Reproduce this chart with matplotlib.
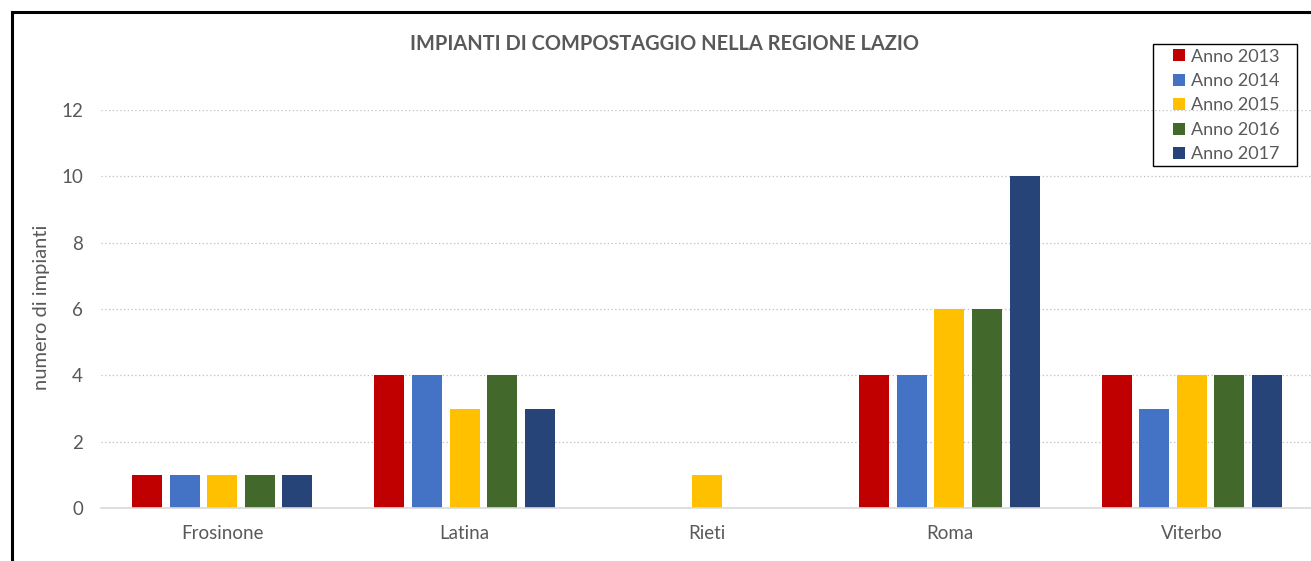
import matplotlib
matplotlib.use("Agg")
import matplotlib.pyplot as plt
import numpy as np
from matplotlib.lines import Line2D
from matplotlib.patches import Patch, Rectangle

categories = ["Frosinone", "Latina", "Rieti", "Roma", "Viterbo"]
series_names = ["Anno 2013", "Anno 2014", "Anno 2015", "Anno 2016", "Anno 2017"]
v2013 = [1, 4, 0, 4, 4]
v2014 = [1, 4, 0, 4, 3]
v2015 = [1, 3, 1, 6, 4]
v2016 = [1, 4, 0, 6, 4]
v2017 = [1, 3, 0, 10, 4]
series = [v2013, v2014, v2015, v2016, v2017]
colors = ["#C00000", "#4472C4", "#FFC000", "#43682B", "#264478"]
yticks = [0, 2, 4, 6, 8, 10, 12]

plt.rcParams['font.family'] = ['Lato', 'DejaVu Sans']
gray = "#595959"

fig = plt.figure(figsize=(13.11, 5.61), dpi=100)
W, H = 1311, 561
ax = fig.add_axes([101 / W, 1 - 508 / H, (1313 - 101) / W, (508 - 110) / H])

x = np.arange(len(categories))
bw = 0.124
pitch = 0.155
for i, (vals, c) in enumerate(zip(series, colors)):
    ax.bar(x + (i - 2) * pitch, vals, width=bw, color=c, label=series_names[i], zorder=3)

ax.set_xlim(-0.5, len(categories) - 0.5)
ax.set_ylim(0, 12)
ax.set_yticks(yticks)
ax.set_xticks(x)
ax.set_xticklabels(categories)
ax.tick_params(axis='both', length=0, colors=gray, labelsize=13.5)
ax.tick_params(axis='y', pad=13)
ax.tick_params(axis='x', pad=12)
ax.grid(axis='y', color="#BFBFBF", linestyle=(0, (1, 2)), linewidth=0.9, zorder=0)
for s in ['top', 'right', 'left']:
    ax.spines[s].set_visible(False)
ax.spines['bottom'].set_color("#D9D9D9")
ax.spines['bottom'].set_linewidth(1.2)
ax.spines['bottom'].set_zorder(4)

ax.set_ylabel("numero di impianti", color=gray, fontsize=14.5)
ax.yaxis.set_label_coords((50 - 101) / 1212, (508 - 307) / 398)

fig.text(665 / W, 1 - 44 / H, "IMPIANTI DI COMPOSTAGGIO NELLA REGIONE LAZIO",
         ha='center', va='center', fontsize=14.4, fontweight='bold', color=gray)

handles = [Patch(facecolor=c, edgecolor='none') for c in colors]
leg = fig.legend(handles, series_names, loc='center left',
                 bbox_to_anchor=(1173 / W, 1 - 105.5 / H), fontsize=13,
                 frameon=False,
                 handlelength=0.65, handleheight=0.65, handletextpad=0.35,
                 labelspacing=0.47, borderpad=0, borderaxespad=0)
for t in leg.get_texts():
    t.set_color(gray)

fig.add_artist(Rectangle((1153 / W, 1 - 166 / H), (1297 - 1153) / W, (166 - 44) / H,
                         transform=fig.transFigure, fill=False, edgecolor='black',
                         linewidth=1.0))

# outer border (left and top visible)
fig.add_artist(Line2D([12 / W, 12 / W], [0, 1 - 12 / H], color='black', linewidth=2.2))
fig.add_artist(Line2D([12 / W, 1], [1 - 12 / H, 1 - 12 / H], color='black', linewidth=2.2))

fig.savefig("out.png", dpi=100)
